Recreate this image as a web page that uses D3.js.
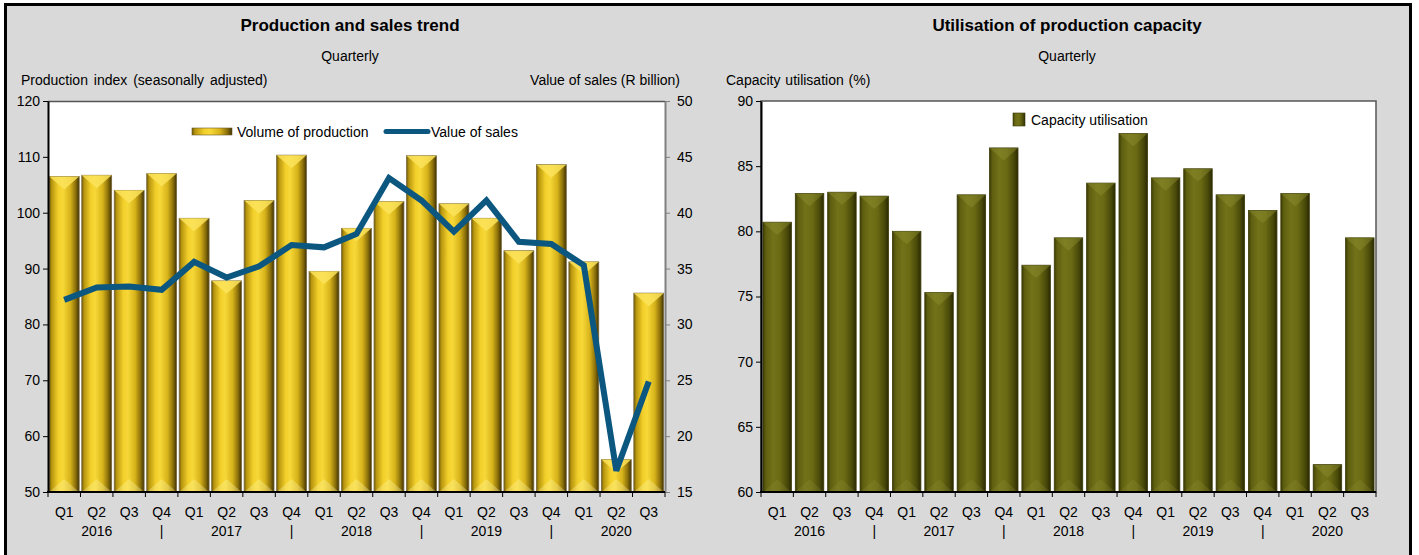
<!DOCTYPE html>
<html><head><meta charset="utf-8">
<script src="https://cdn.jsdelivr.net/npm/d3@7"></script>
<style>
body{margin:0;background:#fff;}
text{font-family:"Liberation Sans",Arial,sans-serif;fill:#000;}
</style></head>
<body><svg id="c" width="1419" height="555"></svg>
<script>
const quarters = ["Q1","Q2","Q3","Q4","Q1","Q2","Q3","Q4","Q1","Q2","Q3","Q4","Q1","Q2","Q3","Q4","Q1","Q2","Q3"];
const yearLabels = ["","2016","","|","","2017","","|","","2018","","|","","2019","","|","","2020",""];
const production = [106.5,106.7,104.0,107.0,99.0,87.8,102.2,110.3,89.5,97.2,102.0,110.2,101.6,99.0,93.2,108.6,91.2,55.8,85.6];
const sales = [32.2,33.3,33.4,33.1,35.6,34.2,35.2,37.1,36.9,38.1,43.1,41.1,38.3,41.1,37.4,37.2,35.3,16.9,24.9];
const capacity = [80.7,82.9,83.0,82.7,80.0,75.3,82.8,86.4,77.4,79.5,83.7,87.5,84.1,84.8,82.8,81.6,82.9,62.1,79.5];
const leftTicks = [50,60,70,80,90,100,110,120];
const rightTicks = [15,20,25,30,35,40,45,50];
const capTicks = [60,65,70,75,80,85,90];

const svg = d3.select("#c");
const defs = svg.append("defs");
function grad(id, stops){
  const g = defs.append("linearGradient").attr("id",id).attr("x1","0").attr("x2","1").attr("y1","0").attr("y2","0");
  stops.forEach(s=>g.append("stop").attr("offset",s[0]).attr("stop-color",s[1]));
}
grad("gold",[[0,"#6e5a08"],[0.08,"#b8960f"],[0.3,"#f2cf2a"],[0.45,"#f7d838"],[0.7,"#d7b31a"],[0.88,"#8c700a"],[1,"#3f3204"]]);
grad("olive",[[0,"#3c3c06"],[0.1,"#5e5e10"],[0.35,"#727219"],[0.6,"#6a6a14"],[0.85,"#4a4a0a"],[1,"#2a2a04"]]);

svg.append("rect").attr("x",5.5).attr("y",4.5).attr("width",1405).attr("height",560).attr("fill","#d9d9d9").attr("stroke","#000").attr("stroke-width",3);

const plotTop = 101, plotBottom = 492;

function bars(g, data, x, y, fill, top1, top2, edge, op1, op2){
  const w = x.bandwidth();
  const gs = g.selectAll("g.bar").data(data).join("g").attr("class","bar");
  gs.append("rect").attr("x",(d,i)=>x(i)).attr("y",d=>y(d)).attr("width",w).attr("height",d=>plotBottom-y(d))
    .attr("fill",`url(#${fill})`).attr("stroke",edge).attr("stroke-width",0.8);
  const dep = Math.min(13, w*0.45);
  gs.append("path").attr("d",(d,i)=>{
      const x0=x(i), yy=y(d);
      const dd=Math.min(dep,(plotBottom-yy)/2);
      return `M${x0},${yy}L${x0+w},${yy}L${x0+w/2},${yy+dd}Z`;})
    .attr("fill",top1).attr("opacity",op1);
  gs.append("path").attr("d",(d,i)=>{
      const x0=x(i), yy=y(d);
      const dd=Math.min(dep,(plotBottom-yy)/2);
      return `M${x0},${plotBottom}L${x0+w},${plotBottom}L${x0+w/2},${plotBottom-dd}Z`;})
    .attr("fill",top2).attr("opacity",op2);
}

function xAxisLabels(g, x){
  const bw = x.step();
  const b = g.append("g");
  const n = quarters.length;
  for(let i=0;i<=n;i++){
    const xx = x.range()[0] + i*bw;
    b.append("line").attr("x1",xx).attr("x2",xx).attr("y1",plotBottom).attr("y2",plotBottom+5).attr("stroke","#000");
  }
  b.selectAll("text.q").data(quarters).join("text").attr("class","q")
    .attr("x",(d,i)=>x(i)+x.bandwidth()/2).attr("y",517).attr("text-anchor","middle").attr("font-size",14).text(d=>d);
  b.selectAll("text.yr").data(yearLabels).join("text").attr("class","yr")
    .attr("x",(d,i)=>x(i)+x.bandwidth()/2).attr("y",536).attr("text-anchor","middle").attr("font-size",14).text(d=>d);
}

// ---------- LEFT CHART ----------
const L = svg.append("g");
const xL = d3.scaleBand().domain(d3.range(quarters.length)).range([48,665]).paddingInner(0.08).paddingOuter(0.04);
const yL = d3.scaleLinear().domain([50,120]).range([plotBottom,plotTop]);
const yR = d3.scaleLinear().domain([15,50]).range([plotBottom,plotTop]);
L.append("rect").attr("x",48).attr("y",plotTop).attr("width",665-48).attr("height",plotBottom-plotTop).attr("fill","#fff");
L.append("line").attr("x1",48).attr("x2",665).attr("y1",plotTop+0.5).attr("y2",plotTop+0.5).attr("stroke","#555").attr("stroke-width",1.5);
bars(L.append("g"), production, xL, yL, "gold", "#fbe35a", "#fff6a0", "#7a6a40", 0.85, 0.35);
const line = d3.line().x((d,i)=>xL(i)+xL.bandwidth()/2).y(d=>yR(d));
L.append("path").datum(sales).attr("d",line).attr("fill","none").attr("stroke","#0b5780").attr("stroke-width",6).attr("stroke-linejoin","miter");
const axL = L.append("g").attr("transform","translate(48,0)").call(d3.axisLeft(yL).tickValues(leftTicks).tickSize(5).tickSizeOuter(0));
axL.select(".domain").attr("stroke","#000").attr("stroke-width",2);
axL.selectAll("text").attr("font-size",14).attr("fill","#000").attr("x",-8);
const axR = L.append("g").attr("transform","translate(665,0)").call(d3.axisRight(yR).tickValues(rightTicks).tickSize(5).tickSizeOuter(0));
axR.select(".domain").attr("stroke","#808080").attr("stroke-width",2);
axR.selectAll("line").attr("stroke","#808080");
axR.selectAll("text").attr("font-size",14).attr("fill","#000").attr("x",12);
L.append("line").attr("x1",47).attr("x2",665).attr("y1",plotBottom).attr("y2",plotBottom).attr("stroke","#000").attr("stroke-width",2);
xAxisLabels(L, xL);
L.append("text").attr("x",350).attr("y",31).attr("text-anchor","middle").attr("font-size",17).attr("font-weight","bold").text("Production and sales trend");
L.append("text").attr("x",350).attr("y",61).attr("text-anchor","middle").attr("font-size",14).text("Quarterly");
L.append("text").attr("x",21).attr("y",85).attr("font-size",14).attr("word-spacing","2px").text("Production index (seasonally adjusted)");
L.append("text").attr("x",680).attr("y",85).attr("text-anchor","end").attr("font-size",14).text("Value of sales (R billion)");
L.append("rect").attr("x",192).attr("y",128).attr("width",40).attr("height",7).attr("fill","url(#gold)").attr("stroke","#6b5a2a").attr("stroke-width",0.6);
L.append("text").attr("x",237).attr("y",137).attr("font-size",14).text("Volume of production");
L.append("line").attr("x1",386).attr("x2",428).attr("y1",131.5).attr("y2",131.5).attr("stroke","#0b5780").attr("stroke-width",5).attr("stroke-linecap","round");
L.append("text").attr("x",431).attr("y",137).attr("font-size",14).text("Value of sales");

// ---------- RIGHT CHART ----------
const R = svg.append("g");
const xC = d3.scaleBand().domain(d3.range(quarters.length)).range([761,1376]).paddingInner(0.12).paddingOuter(0.06);
const yC = d3.scaleLinear().domain([60,90]).range([plotBottom,plotTop]);
R.append("rect").attr("x",761).attr("y",plotTop).attr("width",1376-761).attr("height",plotBottom-plotTop).attr("fill","#fff").attr("stroke","#555").attr("stroke-width",1.5);
bars(R.append("g"), capacity, xC, yC, "olive", "#8e8e30", "#9a9a40", "#3a3a08", 0.45, 0.2);
const axC = R.append("g").attr("transform","translate(761,0)").call(d3.axisLeft(yC).tickValues(capTicks).tickSize(5).tickSizeOuter(0));
axC.select(".domain").attr("stroke","#000").attr("stroke-width",2);
axC.selectAll("text").attr("font-size",14).attr("fill","#000").attr("x",-8);
R.append("line").attr("x1",760).attr("x2",1376).attr("y1",plotBottom).attr("y2",plotBottom).attr("stroke","#000").attr("stroke-width",2);
xAxisLabels(R, xC);
R.append("text").attr("x",1067).attr("y",31).attr("text-anchor","middle").attr("font-size",17).attr("font-weight","bold").text("Utilisation of production capacity");
R.append("text").attr("x",1067).attr("y",61).attr("text-anchor","middle").attr("font-size",14).text("Quarterly");
R.append("text").attr("x",726).attr("y",85).attr("font-size",14).attr("word-spacing","1px").text("Capacity utilisation (%)");
R.append("rect").attr("x",1013).attr("y",113).attr("width",12).attr("height",13).attr("fill","url(#olive)").attr("stroke","#3a3a08").attr("stroke-width",0.6);
R.append("text").attr("x",1031).attr("y",125).attr("font-size",14).text("Capacity utilisation");
</script></body></html>
